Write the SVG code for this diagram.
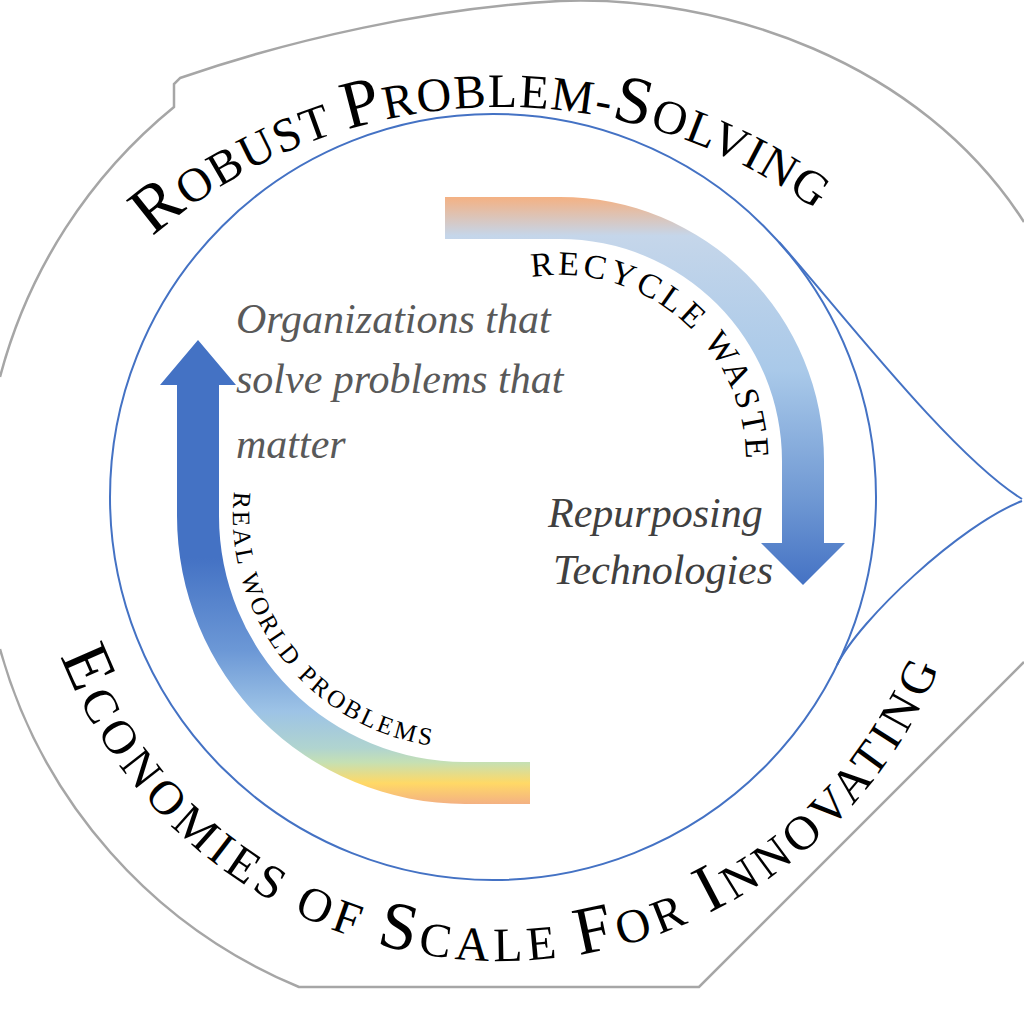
<svg xmlns="http://www.w3.org/2000/svg" width="1024" height="1024" viewBox="0 0 1024 1024">
  <defs>
    <linearGradient id="gradRight" gradientUnits="userSpaceOnUse" x1="0" y1="197" x2="0" y2="585">
      <stop offset="0" stop-color="#f4b183"/>
      <stop offset="0.1" stop-color="#c5d6ea"/>
      <stop offset="0.45" stop-color="#a9c9e9"/>
      <stop offset="0.78" stop-color="#6f98d3"/>
      <stop offset="1" stop-color="#4472c4"/>
    </linearGradient>
    <linearGradient id="gradLeft" gradientUnits="userSpaceOnUse" x1="0" y1="340" x2="0" y2="804">
      <stop offset="0" stop-color="#4472c4"/>
      <stop offset="0.47" stop-color="#4472c4"/>
      <stop offset="0.67" stop-color="#6c98d6"/>
      <stop offset="0.8" stop-color="#9dc3e6"/>
      <stop offset="0.88" stop-color="#b0d4cf"/>
      <stop offset="0.91" stop-color="#c5e0b4"/>
      <stop offset="0.955" stop-color="#ffd966"/>
      <stop offset="1" stop-color="#f4b183"/>
    </linearGradient>
    <path id="arcTop" d="M -32,640 A 533 533 0 0 1 1034,640"/>
    <path id="arcBottom" d="M 30,489 A 472 472 0 0 0 974,489"/>
    <path id="arcRecycle" d="M 527.7,277.8 A 186 186 0 0 1 743.2,493.3"/>
    <path id="arcReal" d="M 236.5,475.7 A 232 232 0 0 0 505.3,744.5"/>
  </defs>
  <style>
    .outer { fill: none; stroke: #a6a6a6; stroke-width: 2.5; }
    .blue { fill: none; stroke: #4472c4; stroke-width: 2; }
    .arc-title { font-family: "Liberation Serif", "Times New Roman", serif; fill: #000; }
    .band-label { font-family: "Liberation Serif", "Times New Roman", serif; fill: #000; }
    .note { font-family: "Liberation Serif", "Times New Roman", serif; font-style: italic; font-size: 42px; }
  </style>
  <rect width="1024" height="1024" fill="#ffffff"/>

  <g id="outer-frame">
    <path class="outer" d="M 0,377 A 518 518 0 0 1 174,107 L 174,84 L 180,78 C 290,40 430,8 560,1 C 720,-5 920,60 1024,222"/>
    <path class="outer" d="M 0,649 A 515 515 0 0 0 299,987 L 699,987 L 1024,662"/>
  </g>

  <g id="teardrop">
    <circle class="blue" cx="493" cy="497" r="383"/>
    <path class="blue" d="M 779,242 C 830,298 950,455 1022,499"/>
    <path class="blue" d="M 837,665 C 859,620 960,525 1022,501"/>
  </g>

  <g id="title-top">
    <text class="arc-title" text-anchor="middle" letter-spacing="1.5"><textPath href="#arcTop" startOffset="48.75%"><tspan font-size="68">R</tspan><tspan font-size="48">OBUST </tspan><tspan font-size="68">P</tspan><tspan font-size="48">ROBLEM-</tspan><tspan font-size="68">S</tspan><tspan font-size="48">OLVING</tspan></textPath></text>
  </g>

  <g id="title-bottom">
    <text class="arc-title" text-anchor="middle" letter-spacing="5"><textPath href="#arcBottom" startOffset="49.75%"><tspan font-size="68">E</tspan><tspan font-size="48">CONOMIES OF </tspan><tspan font-size="68">S</tspan><tspan font-size="48">CALE </tspan><tspan font-size="68">F</tspan><tspan font-size="48">OR </tspan><tspan font-size="68">I</tspan><tspan font-size="48">NNOVATING</tspan></textPath></text>
  </g>

  <g id="connectors">
    <g id="arrow-recycle">
      <path fill="url(#gradRight)" d="M 445,197 L 560,197 A 264 264 0 0 1 824,461 L 824,543 L 845,543 L 803,585 L 761,543 L 782,543 L 782,461 A 222 222 0 0 0 560,239 L 445,239 Z"/>
      <text class="band-label" font-size="34" letter-spacing="3.5"><textPath href="#arcRecycle" startOffset="4">RECYCLE WASTE</textPath></text>
    </g>
    <g id="arrow-real">
      <path fill="url(#gradLeft)" d="M 530,804 L 465,804 A 288 288 0 0 1 177,516 L 177,385 L 160,385 L 198,340 L 236,385 L 219,385 L 219,516 A 246 246 0 0 0 465,762 L 530,762 Z"/>
      <text class="band-label" font-size="25" letter-spacing="3"><textPath href="#arcReal" startOffset="16">REAL WORLD PROBLEMS</textPath></text>
    </g>
  </g>

  <g id="note-organizations">
    <text class="note" fill="#595959"><tspan x="236" y="333">Organizations that</tspan><tspan x="236" y="393">solve problems that</tspan><tspan x="236" y="458">matter</tspan></text>
  </g>

  <g id="note-repurposing">
    <text class="note" fill="#404040"><tspan x="548" y="527">Repurposing</tspan><tspan x="553" y="584">Technologies</tspan></text>
  </g>
</svg>
